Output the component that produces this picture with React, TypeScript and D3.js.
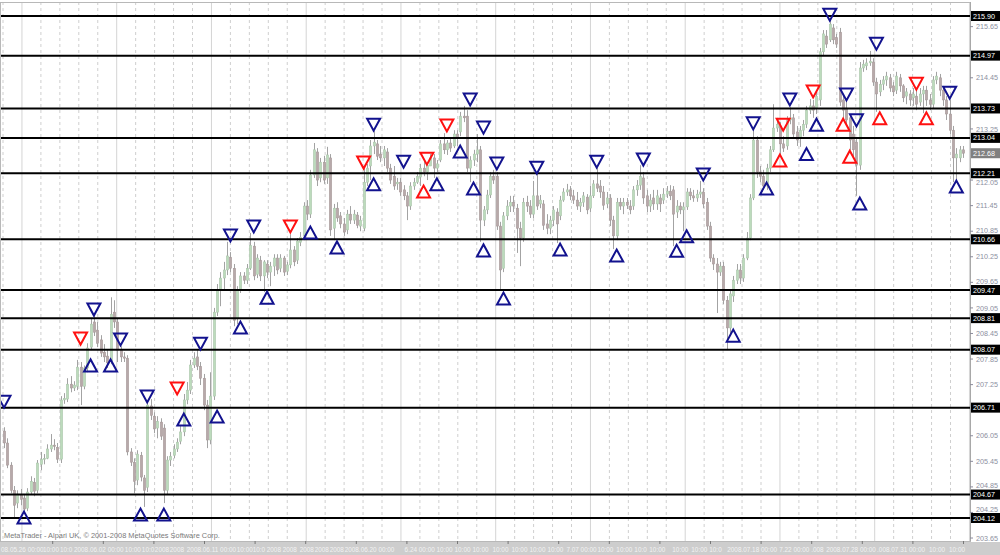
import React from "react";
import * as d3 from "d3";

// USDJPY-style candles, each bar is [open, high, low, close]
type Bar = [number, number, number, number];

const barsWeek1: Bar[] = [
  [206.16, 206.25, 205.76, 205.88], [205.88, 205.99, 205.29, 205.36], [205.36, 205.43, 204.70, 204.77],
  [204.77, 204.87, 204.14, 204.42], [204.47, 204.77, 204.35, 204.68], [204.66, 204.80, 204.42, 204.56],
  [204.59, 204.66, 204.21, 204.33], [204.35, 204.82, 204.28, 204.73], [204.73, 205.10, 204.68, 204.98],
  [204.96, 205.06, 204.63, 204.75], [204.77, 205.48, 204.70, 205.41], [205.38, 205.67, 205.24, 205.50],
  [205.50, 205.62, 205.38, 205.52], [205.52, 205.85, 205.50, 205.74], [205.74, 206.09, 205.67, 205.83],
  [205.83, 205.97, 205.71, 205.80], [205.78, 205.88, 205.41, 205.50], [205.50, 206.98, 205.41, 206.89],
  [206.89, 207.05, 206.80, 206.93], [206.91, 207.40, 206.84, 207.26], [207.26, 207.45, 207.07, 207.17],
  [207.17, 207.33, 207.10, 207.24], [207.21, 207.83, 207.12, 207.66], [207.66, 207.78, 206.77, 207.21],
  [207.21, 207.70, 207.14, 207.64], [207.64, 208.22, 207.54, 208.11], [208.13, 208.81, 208.06, 208.67],
  [208.72, 208.88, 208.39, 208.48], [208.53, 208.72, 208.13, 208.22], [208.30, 208.41, 207.90, 207.99],
  [208.01, 208.20, 207.78, 207.90], [207.92, 208.06, 207.64, 207.76], [207.80, 209.30, 207.73, 208.90],
  [208.95, 209.23, 208.58, 208.72], [208.72, 208.81, 207.78, 208.06], [208.06, 208.15, 207.78, 207.90],
  [207.90, 208.01, 207.78, 207.87], [207.87, 207.94, 205.59, 205.67], [205.67, 205.76, 205.34, 205.43],
  [205.43, 205.52, 204.70, 204.98], [205.01, 205.71, 204.89, 205.62], [205.59, 205.67, 204.98, 205.08],
  [205.06, 205.13, 204.38, 204.77], [204.84, 206.84, 204.73, 206.77], [206.75, 206.91, 206.42, 206.53],
  [206.51, 206.60, 206.11, 206.21], [206.23, 206.51, 205.99, 206.39], [206.37, 206.46, 205.95, 206.04],
  [206.23, 206.32, 204.47, 204.77], [204.77, 205.57, 204.68, 205.48], [205.48, 205.67, 205.34, 205.57],
  [205.59, 205.85, 205.52, 205.74], [205.74, 205.99, 205.67, 205.90], [205.92, 206.28, 205.85, 206.14],
  [206.14, 207.03, 206.04, 206.89], [206.89, 207.31, 206.79, 207.12], [207.12, 207.83, 207.03, 207.71],
  [207.71, 208.01, 207.64, 207.87], [207.90, 208.06, 207.59, 207.68],
];

const barsWeek2: Bar[] = [
  [207.68, 207.78, 207.24, 207.40], [207.40, 207.50, 206.65, 206.77], [206.77, 206.89, 205.76, 205.95],
  [205.95, 207.54, 205.85, 206.98], [206.98, 209.05, 206.89, 208.95], [208.95, 209.61, 208.86, 209.47],
  [209.47, 209.89, 209.09, 209.75], [209.75, 210.13, 209.47, 209.94], [209.94, 210.60, 209.82, 210.27],
  [210.24, 210.36, 209.89, 209.98], [209.98, 210.08, 208.62, 208.76], [208.81, 209.56, 208.67, 209.47],
  [209.47, 209.89, 209.40, 209.80], [209.80, 209.89, 209.61, 209.70], [209.70, 210.08, 209.61, 209.98],
  [209.98, 210.81, 209.94, 210.52], [210.50, 210.60, 209.70, 209.80], [209.84, 210.31, 209.75, 210.22],
  [210.17, 210.27, 209.68, 209.80], [209.80, 210.17, 209.42, 210.13], [210.08, 210.17, 209.75, 209.89],
  [209.89, 210.13, 209.56, 210.03], [210.03, 210.31, 209.80, 210.22], [210.22, 210.31, 209.84, 209.94],
  [209.98, 210.31, 209.89, 210.22], [210.22, 210.27, 209.80, 209.89], [209.91, 210.13, 209.82, 210.06],
  [210.06, 210.78, 209.98, 210.41], [210.41, 210.50, 210.03, 210.13], [210.17, 210.69, 210.08, 210.62],
  [210.59, 210.83, 210.50, 210.71], [210.74, 211.53, 210.64, 211.44], [211.44, 211.58, 211.11, 211.25],
  [211.25, 212.29, 211.16, 212.17], [212.17, 212.92, 212.10, 212.76], [212.71, 212.80, 211.91, 212.05],
  [212.10, 212.57, 212.00, 212.47], [212.47, 212.62, 211.96, 212.05], [212.10, 212.83, 211.96, 212.64],
  [212.57, 212.66, 210.74, 210.88], [210.92, 211.49, 210.64, 211.39], [211.39, 211.53, 211.07, 211.16],
  [211.21, 211.30, 210.92, 211.02], [211.02, 211.16, 210.74, 210.83], [210.88, 211.35, 210.78, 211.25],
  [211.25, 211.44, 211.02, 211.11], [211.11, 211.35, 211.02, 211.25], [211.23, 211.30, 210.92, 210.99],
  [210.97, 211.21, 210.85, 211.11], [210.92, 212.33, 210.85, 212.00], [212.00, 212.43, 211.91, 212.33],
  [212.38, 212.99, 212.05, 212.85], [212.85, 213.20, 212.66, 212.94], [212.90, 212.99, 212.52, 212.61],
  [212.66, 212.85, 212.47, 212.57], [212.57, 212.85, 212.38, 212.76], [212.71, 212.80, 212.24, 212.33],
  [212.33, 212.43, 211.96, 212.05],
];

const barsWeek3: Bar[] = [
  [212.14, 212.38, 211.82, 211.91], [211.96, 212.10, 211.82, 212.00], [212.00, 212.10, 211.68, 211.77],
  [211.82, 211.93, 211.58, 211.68], [211.68, 211.77, 211.11, 211.44], [211.44, 212.00, 211.35, 211.91],
  [211.91, 212.10, 211.82, 212.00], [212.00, 212.24, 211.96, 212.14], [212.12, 212.43, 211.91, 212.33],
  [212.33, 212.52, 212.14, 212.24], [212.24, 212.47, 212.05, 212.40], [212.38, 212.66, 212.38, 212.57],
  [212.57, 212.66, 212.10, 212.33], [212.33, 212.52, 212.24, 212.43], [212.52, 212.99, 212.47, 212.90],
  [212.90, 213.15, 212.66, 212.76], [212.76, 212.99, 212.64, 212.92], [212.92, 213.04, 212.71, 212.80],
  [212.85, 213.22, 212.80, 213.13], [213.13, 213.22, 212.85, 213.04], [213.18, 213.65, 213.08, 213.55],
  [213.55, 213.79, 213.41, 213.51], [213.55, 213.69, 212.24, 212.33], [212.33, 212.61, 212.00, 212.52],
  [212.52, 212.76, 212.38, 212.66], [212.66, 213.13, 212.47, 212.76], [212.76, 212.85, 210.60, 211.11],
  [211.11, 211.44, 210.97, 211.35], [211.35, 211.82, 211.25, 211.70], [211.70, 212.24, 211.63, 212.14],
  [212.14, 212.29, 211.96, 212.05], [212.14, 212.24, 210.88, 210.97], [210.97, 211.07, 209.47, 209.94],
  [209.98, 211.30, 209.89, 211.21], [211.21, 211.58, 211.11, 211.44], [211.44, 211.68, 211.30, 211.53],
  [211.53, 211.68, 211.30, 211.44], [211.39, 211.49, 210.34, 210.92], [210.92, 211.07, 210.03, 210.69],
  [210.69, 211.63, 210.60, 211.53], [211.53, 211.68, 211.30, 211.44], [211.44, 211.58, 211.16, 211.25],
  [211.25, 212.03, 211.16, 211.68], [211.68, 212.19, 211.35, 211.44], [211.49, 211.70, 211.39, 211.58],
  [211.49, 211.58, 210.88, 210.99], [211.02, 211.25, 210.78, 210.92], [210.92, 211.21, 210.78, 211.11],
  [211.11, 211.44, 210.97, 211.35], [211.30, 211.39, 210.57, 211.02], [211.21, 211.68, 211.11, 211.58],
  [211.58, 211.86, 211.54, 211.77], [211.77, 211.96, 211.68, 211.82], [211.82, 211.91, 211.58, 211.68],
  [211.68, 211.82, 211.49, 211.58], [211.58, 211.77, 211.35, 211.44], [211.44, 211.63, 211.30, 211.53],
  [211.53, 211.77, 211.42, 211.68],
];

const barsWeek4: Bar[] = [
  [211.65, 211.72, 211.25, 211.35], [211.39, 211.91, 211.30, 211.68], [211.68, 212.05, 211.63, 211.96],
  [211.96, 212.33, 211.77, 211.86], [211.91, 212.05, 211.63, 211.77], [211.77, 211.91, 211.35, 211.46],
  [211.49, 211.77, 211.39, 211.63], [211.63, 211.72, 210.97, 211.11], [211.11, 211.21, 210.43, 210.74],
  [210.74, 211.63, 210.64, 211.53], [211.53, 211.63, 211.35, 211.44], [211.44, 211.63, 211.25, 211.53],
  [211.53, 211.63, 211.37, 211.46], [211.44, 211.58, 211.25, 211.35], [211.44, 211.91, 211.35, 211.82],
  [211.82, 212.05, 211.68, 211.93], [211.93, 212.40, 211.82, 212.14], [212.10, 212.24, 211.49, 211.63],
  [211.68, 211.82, 211.30, 211.44], [211.44, 211.72, 211.30, 211.58], [211.63, 211.82, 211.35, 211.49],
  [211.49, 211.82, 211.35, 211.68], [211.63, 211.72, 211.30, 211.49], [211.58, 211.86, 211.49, 211.72],
  [211.72, 211.91, 211.63, 211.79], [211.79, 211.93, 211.58, 211.68], [211.82, 211.91, 210.50, 211.25],
  [211.30, 211.58, 211.16, 211.44], [211.44, 211.53, 211.25, 211.35], [211.35, 211.53, 210.85, 211.42],
  [211.42, 211.86, 211.35, 211.77], [211.77, 211.86, 211.58, 211.68], [211.68, 211.82, 211.54, 211.63],
  [211.63, 211.82, 211.54, 211.72], [211.72, 212.03, 211.63, 211.77], [211.77, 211.86, 211.39, 211.49],
  [211.53, 211.63, 210.88, 210.97], [210.97, 211.07, 210.13, 210.22], [210.22, 210.31, 209.94, 210.08],
  [210.08, 210.22, 208.93, 209.89], [209.89, 210.13, 209.80, 210.03], [210.03, 210.13, 209.14, 209.23],
  [209.23, 209.33, 208.06, 208.58], [208.58, 209.47, 208.44, 209.38], [209.33, 209.80, 209.19, 209.70],
  [209.70, 210.08, 209.61, 209.94], [209.94, 210.08, 209.61, 209.75], [209.75, 210.31, 209.66, 210.22],
  [210.22, 210.83, 210.17, 210.69], [210.69, 211.72, 210.64, 211.63], [211.63, 213.25, 211.58, 212.99],
  [212.99, 213.08, 212.10, 212.24], [212.24, 212.38, 212.00, 212.14], [212.14, 212.29, 211.82, 211.91],
  [211.91, 212.43, 211.82, 212.33], [212.33, 212.85, 212.24, 212.76], [212.76, 213.83, 212.71, 213.27],
  [213.27, 213.51, 213.18, 213.36], [213.32, 213.41, 212.61, 212.90], [212.90, 213.08, 212.71, 212.80],
];

const barsWeek5: Bar[] = [
  [212.85, 213.55, 212.76, 213.46], [213.46, 213.76, 213.36, 213.51], [213.51, 213.60, 213.04, 213.13],
  [213.18, 213.32, 212.85, 212.99], [213.04, 213.32, 212.83, 213.22], [213.22, 213.46, 213.08, 213.36],
  [213.36, 213.79, 213.27, 213.69], [213.69, 213.95, 213.60, 213.79], [213.79, 213.93, 213.51, 213.69],
  [213.74, 214.16, 213.60, 214.02], [213.93, 215.15, 213.79, 215.06], [215.06, 215.57, 214.96, 215.48],
  [215.43, 215.57, 215.15, 215.24], [215.34, 215.81, 215.29, 215.71], [215.62, 215.71, 215.24, 215.34],
  [215.39, 215.48, 215.15, 215.24], [215.52, 215.62, 213.79, 213.88], [213.93, 214.02, 213.51, 213.69],
  [213.74, 213.93, 213.36, 213.46], [213.51, 213.60, 212.76, 212.99], [213.13, 213.32, 212.61, 212.76],
  [212.94, 213.04, 211.68, 212.40], [212.40, 214.82, 212.29, 214.68], [214.68, 214.87, 214.59, 214.77],
  [214.73, 214.91, 214.63, 214.80], [214.80, 215.08, 214.73, 214.84], [214.82, 214.91, 214.26, 214.35],
  [214.35, 214.45, 213.65, 214.07], [214.12, 214.40, 214.02, 214.30], [214.30, 214.49, 214.16, 214.40],
  [214.40, 214.59, 214.26, 214.49], [214.45, 214.54, 214.12, 214.21], [214.26, 214.35, 214.02, 214.12],
  [214.16, 214.59, 214.07, 214.49], [214.45, 214.54, 214.12, 214.26], [214.26, 214.30, 213.88, 213.98],
  [214.02, 214.21, 213.83, 214.12], [214.07, 214.16, 213.79, 213.93], [213.98, 214.21, 213.79, 214.07],
  [214.02, 214.16, 213.69, 213.83], [213.88, 214.21, 213.79, 214.07], [214.07, 214.26, 213.62, 214.16],
  [214.16, 214.26, 213.79, 213.93], [213.93, 214.07, 213.69, 213.83], [213.83, 214.49, 213.74, 214.40],
  [214.40, 214.59, 214.30, 214.49], [214.45, 214.54, 214.02, 214.16], [214.16, 214.26, 213.79, 213.93],
  [213.93, 214.02, 213.46, 213.60], [213.60, 213.93, 213.13, 213.22], [213.22, 213.32, 212.00, 212.57],
  [212.57, 212.80, 212.03, 212.66], [212.57, 212.85, 212.47, 212.76], [212.76, 212.85, 212.57, 212.68],
];

// Horizontal support / resistance levels
const levelPrices = [215.90, 214.97, 213.73, 213.04, 212.21, 210.66, 209.47, 208.81, 208.07, 206.71, 204.67, 204.12];

// Price scale ticks on the right axis
const priceTicks = [
  203.65, 204.25, 204.85, 205.45, 206.05, 206.65, 207.25, 207.85, 208.45, 209.05, 209.65,
  210.25, 210.85, 211.45, 212.05, 212.65, 213.25, 213.85, 214.45, 215.05, 215.65,
];

// Signal arrows: bar index, price at the arrow tip, direction, colour
const signalBars = [
  0, 6, 23, 27, 26, 32, 35, 41, 43, 48, 52, 54, 59, 64, 68, 71, 75, 79, 86, 92, 100, 108, 111, 111,
  120, 126, 127, 130, 133, 137, 140, 141, 144, 144, 148, 150, 160, 167, 178, 184, 192, 202, 205, 210,
  219, 225, 229, 234, 233, 236, 241, 243, 244, 248, 253, 252, 256, 254, 257, 262, 263, 274, 277, 284, 286,
];
const signalPrices = [
  206.71, 204.27, 208.19, 208.87, 207.84, 207.84, 208.17, 204.34, 206.83, 204.34, 207.02, 206.57, 208.07,
  206.64, 210.61, 208.73, 210.82, 209.43, 210.82, 210.96, 210.61, 212.32, 213.21, 212.09, 212.34, 211.92,
  212.41, 212.09, 213.19, 212.86, 213.80, 211.99, 213.14, 210.54, 212.30, 209.41, 212.20, 210.56, 212.34,
  210.42, 212.39, 210.53, 210.87, 212.04, 208.54, 213.24, 211.99, 213.21, 212.65, 213.80, 212.80, 213.99,
  213.49, 215.79, 213.92, 213.49, 213.31, 212.74, 211.64, 215.11, 213.64, 214.17, 213.64, 213.96, 212.04,
];
const signalDirs = [
  "d", "u", "d", "d", "u", "u", "d", "u", "d", "u", "d", "u", "d", "u", "d", "u", "d", "u", "d", "u", "u",
  "d", "d", "u", "d", "u", "d", "u", "d", "u", "d", "u", "d", "u", "d", "u", "d", "u", "d", "u", "d", "u",
  "u", "d", "u", "d", "u", "d", "u", "d", "u", "d", "u", "d", "d", "u", "d", "u", "u", "d", "u", "d", "u",
  "d", "u",
];
const signalColors = [
  "b", "b", "r", "b", "b", "b", "b", "b", "b", "b", "r", "b", "b", "b", "b", "b", "b", "b", "r", "b", "b",
  "r", "b", "b", "b", "r", "r", "b", "r", "b", "b", "b", "b", "b", "b", "b", "b", "b", "b", "b", "b", "b",
  "b", "b", "b", "b", "b", "r", "r", "b", "b", "r", "b", "b", "b", "r", "b", "r", "b", "b", "r", "r", "r",
  "b", "b",
];

// Time axis captions as they print along the bottom strip (bar position, text)
const timeLabelBars = [
  -0.9, 11.7, 16.8, 21, 36.3, 41.4, 45.3, 49.8, 54.9, 69.9, 74.7, 78.9, 83.7, 88.8, 93.3, 97.8, 102.3,
  120.3, 129.9, 135.3, 140.7, 146.7, 152.4, 157.8, 163.2, 168.9, 178.2, 183.9, 189.3, 193.8, 200.7, 206.4,
  211.8, 217.2, 232.8, 242.4, 246.9, 262.2, 277.8, 283.8,
];
const timeLabelTexts = [
  "08.05.26 00:00", "10:00", "10:0", "2008.06.02 00:00", "10:00", "10:0", "2008", "2008", "2008.06.11 00:00",
  "10:00", "10:0", "2008", "2008", "2008", "2008", "2008", "2008.06.20 00:00", "6.24 00:00", "10:00", "10:00",
  "10:00", "10:00", "10:00", "10:00", "10:00", "7.07 00:00", "10:00", "10:00", "10:0", "10:00", "10:00",
  "10:00", "10:0", "2008.07.18 00:00", "7.22 00:00", ".008", "2008.07.28 00:00", ".008.07.31 00:00", "10:00",
  "10:00",
];

const FONT = "'Liberation Sans', Arial, sans-serif";

export default function App() {
  const bars: Bar[] = [...barsWeek1, ...barsWeek2, ...barsWeek3, ...barsWeek4, ...barsWeek5];
  const plotRight = 970;
  const plotTop = 2;
  const plotBottom = 541;

  const x = d3.scaleLinear().domain([0, bars.length - 1]).range([4, 963]);
  const y = d3.scaleLinear().domain([204.12, 215.9]).range([518, 16]);

  const bodyW = 2.4;
  const lastClose = bars[bars.length - 1][3];

  // price labels sitting under a level box are hidden by it; near ones are pushed clear of the box
  const boxedPrices = [...levelPrices, lastClose];
  const clearance = 8.8;
  const visibleTicks = priceTicks
    .filter((p) => boxedPrices.every((b) => Math.abs(y(p) - y(b)) > 5.5))
    .map((p) => {
      let ly = y(p);
      boxedPrices.forEach((b) => {
        const d = ly - y(b);
        if (Math.abs(d) < clearance) ly = y(b) + Math.sign(d) * clearance;
      });
      return { p, ty: y(p), ly };
    });

  // vertical grid: daily dashed lines, weekly solid separators
  const gridStep = 18.95;
  const gridLines = d3.range(0, 52).map((k) => ({ gx: 3 + k * gridStep, solid: k % 5 === 1 }));
  const axisTicks = d3.range(0, 19).map((k) => 52.7 + k * 50.6);

  const triW = 6.5;
  const triH = 12;

  return (
    <svg
      width={1000}
      height={555}
      style={{ position: "absolute", left: 0, top: 0, display: "block", background: "#fff" }}
      fontFamily={FONT}
    >
      <rect x={0} y={0} width={1000} height={555} fill="#ffffff" />

      {/* vertical grid */}
      {gridLines
        .filter((g) => g.gx < plotRight)
        .map((g, i) => (
          <line
            key={`g${i}`}
            x1={g.gx}
            x2={g.gx}
            y1={plotTop}
            y2={plotBottom}
            stroke={g.solid ? "#d4d4d4" : "#cfcfcf"}
            strokeWidth={1}
            strokeDasharray={g.solid ? undefined : "3,3"}
          />
        ))}

      {/* candles */}
      <g>
        {bars.map(([o, h, l, c], i) => {
          const cx = Math.round(x(i)) + 0.5;
          const top = y(Math.max(o, c));
          const bot = y(Math.min(o, c));
          const bull = c >= o;
          return (
            <g key={`b${i}`}>
              <line x1={cx} x2={cx} y1={y(h)} y2={y(l)} stroke="#a3a3a3" strokeWidth={1} />
              <rect
                x={cx - bodyW / 2}
                y={top}
                width={bodyW}
                height={Math.max(1, bot - top)}
                fill={bull ? "#bcdbbc" : "#b7a9aa"}
                stroke={bull ? "#a9c4a9" : "#a49595"}
                strokeWidth={0.5}
              />
            </g>
          );
        })}
      </g>

      {/* horizontal levels */}
      {levelPrices.map((p, i) => (
        <line key={`l${i}`} x1={0} x2={plotRight} y1={y(p)} y2={y(p)} stroke="#000" strokeWidth={2} />
      ))}

      {/* signal arrows */}
      {signalBars.map((b, i) => {
        const cx = x(b);
        const tip = y(signalPrices[i]);
        const color = signalColors[i] === "r" ? "#ff1010" : "#12128e";
        const base = signalDirs[i] === "d" ? tip - triH : tip + triH;
        const path = `M${cx - triW},${base}L${cx + triW},${base}L${cx},${tip}Z`;
        return <path key={`s${i}`} d={path} fill="none" stroke={color} strokeWidth={2} strokeLinejoin="miter" />;
      })}

      <text x={4} y={538} fontSize={7.4} fill="#7a7a7a">
        MetaTrader - Alpari UK, © 2001-2008 MetaQuotes Software Corp.
      </text>

      {/* plot frame */}
      <rect x={0.5} y={plotTop + 0.5} width={plotRight} height={plotBottom - plotTop} fill="none" stroke="#b8b8b8" />

      {/* right price axis */}
      <rect x={plotRight + 1} y={0} width={1000 - plotRight - 1} height={plotBottom} fill="#ffffff" />
      <line x1={plotRight + 0.5} x2={plotRight + 0.5} y1={plotTop} y2={plotBottom} stroke="#a8a8a8" />
      {visibleTicks.map((t, i) => (
        <g key={`t${i}`}>
          <line x1={plotRight} x2={plotRight + 3} y1={t.ty} y2={t.ty} stroke="#8c8c9c" />
          <text x={plotRight + 6} y={t.ly + 2.6} fontSize={7.2} fill="#8c8fa0">
            {t.p.toFixed(2)}
          </text>
        </g>
      ))}
      {levelPrices.map((p, i) => (
        <g key={`lb${i}`}>
          <rect x={plotRight + 1} y={y(p) - 5} width={29} height={10} fill="#000" />
          <text x={plotRight + 3} y={y(p) + 2.6} fontSize={7.2} fill="#fff">
            {p.toFixed(2)}
          </text>
        </g>
      ))}
      <rect x={plotRight + 1} y={y(lastClose) - 5} width={29} height={10} fill="#808080" />
      <text x={plotRight + 3} y={y(lastClose) + 2.6} fontSize={7.2} fill="#fff">
        {lastClose.toFixed(2)}
      </text>

      {/* time axis strip */}
      <rect x={0} y={plotBottom + 1} width={1000} height={555 - plotBottom - 1} fill="#cdcdcd" />
      {axisTicks.map((tx, i) => (
        <line key={`at${i}`} x1={tx} x2={tx} y1={plotBottom} y2={plotBottom + 3} stroke="#777" />
      ))}
      <g>
        {timeLabelBars.map((b, i) => (
          <text key={`tl${i}`} x={x(b)} y={551.5} fontSize={6.4} fill="#f3f3f3">
            {timeLabelTexts[i]}
          </text>
        ))}
      </g>
    </svg>
  );
}
